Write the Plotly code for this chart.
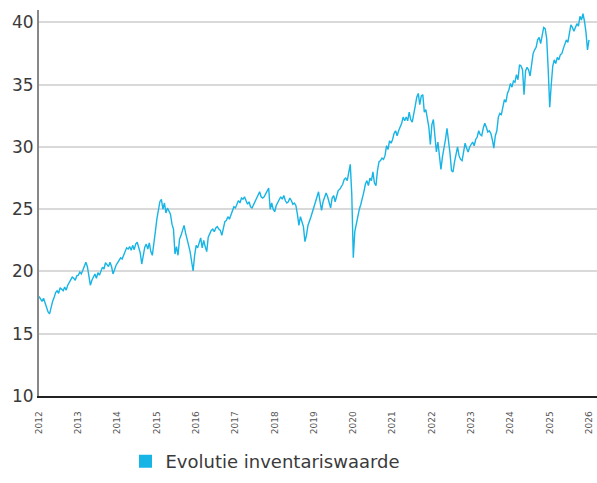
import pandas as pd
import plotly.graph_objects as go

# Net asset value, one reading every two weeks, grouped per year on the axis
nav_2012 = [18.0, 17.8, 17.6, 17.85, 17.5, 17.1, 16.75, 16.6, 17.2, 17.6, 17.9, 18.3, 18.45,
            18.25, 18.7, 18.55, 18.45, 18.75, 18.5, 18.9, 19.1, 19.3, 19.55, 19.45, 19.3, 19.65]
nav_2013 = [19.7, 19.95, 19.8, 20.1, 20.4, 20.75, 20.4, 19.6, 18.9, 19.3, 19.6, 19.8, 19.45,
            19.9, 19.7, 20.0, 20.35, 20.2, 20.7, 20.55, 20.4, 20.75, 20.4, 19.8, 20.2, 20.5]
nav_2014 = [20.7, 20.95, 21.1, 21.0, 21.3, 21.6, 21.9, 21.8, 22.0, 21.7, 22.1, 21.75, 22.2,
            22.35, 21.95, 21.5, 20.6, 21.4, 21.95, 22.2, 21.8, 22.3, 21.6, 21.3, 22.5, 23.2]
nav_2015 = [24.2, 24.9, 25.6, 25.8, 25.0, 25.5, 24.7, 25.1, 24.9, 24.6, 23.8, 23.4, 21.4,
            22.0, 21.3, 22.6, 22.9, 23.4, 23.7, 23.1, 22.6, 22.0, 21.6, 20.8, 20.05, 21.3]
nav_2016 = [22.1, 21.9, 22.4, 22.7, 21.9, 22.5, 22.0, 21.6, 22.75, 23.0, 23.3, 23.4, 23.2,
            23.5, 23.6, 23.4, 23.3, 22.9, 23.4, 24.0, 24.1, 24.4, 24.2, 24.6, 24.8, 25.2]
nav_2017 = [25.1, 25.4, 25.7, 25.5, 25.9, 25.8, 26.0, 25.7, 25.4, 25.6, 25.2, 25.1, 25.35,
            25.6, 25.9, 26.1, 26.4, 26.0, 25.9, 26.0, 26.2, 26.5, 26.7, 25.0, 25.5, 25.0]
nav_2018 = [24.8, 25.3, 25.5, 25.8, 26.0, 25.8, 26.1, 25.7, 25.5, 25.6, 25.9, 25.7, 25.4,
            25.5, 25.3, 24.6, 23.7, 24.4, 24.0, 23.6, 22.4, 22.9, 23.7, 24.0, 24.4, 24.8]
nav_2019 = [25.2, 25.6, 26.0, 26.4, 25.6, 24.9, 25.6, 25.9, 26.3, 26.0, 25.5, 25.1, 25.9,
            26.1, 25.6, 26.0, 26.5, 26.6, 26.8, 27.0, 27.4, 27.5, 27.3, 28.0, 28.6, 26.2]
nav_2020 = [21.1, 23.2, 23.9, 24.6, 25.0, 25.4, 25.8, 26.4, 27.0, 27.3, 26.9, 27.5, 27.3,
            28.0, 27.1, 26.9, 28.1, 28.8, 28.9, 29.1, 29.0, 29.3, 30.1, 29.8, 30.5, 30.3]
nav_2021 = [30.6, 31.1, 31.3, 30.9, 31.3, 31.6, 31.9, 32.4, 32.1, 32.4, 32.1, 32.8, 32.2,
            32.0, 32.8, 33.3, 34.0, 34.3, 33.4, 34.1, 34.2, 32.8, 33.0, 32.4, 31.6, 30.2]
nav_2022 = [31.8, 32.2, 30.8, 29.6, 30.4, 29.3, 28.2, 29.2, 29.8, 30.6, 31.5, 30.7, 29.5,
            28.1, 28.0, 28.8, 29.5, 30.0, 29.3, 29.0, 28.9, 29.8, 30.3, 29.9, 29.6, 30.0]
nav_2023 = [30.2, 30.4, 30.1, 30.6, 30.8, 31.3, 31.0, 30.9, 31.5, 31.9, 31.6, 31.2, 31.3,
            31.1, 30.6, 29.9, 30.9, 31.3, 32.4, 32.7, 32.6, 33.3, 33.8, 33.6, 34.3, 34.6]
nav_2024 = [35.1, 34.8, 35.3, 35.2, 35.8, 35.4, 36.6, 36.5, 36.2, 34.2, 36.1, 36.4, 36.2,
            35.7, 36.8, 37.5, 37.8, 38.0, 38.6, 38.8, 38.3, 39.0, 39.6, 39.5, 38.7, 36.2]
nav_2025 = [33.2, 35.0, 36.5, 37.0, 36.7, 37.2, 37.0, 37.4, 37.5, 37.9, 38.2, 38.6, 38.4,
            39.0, 39.8, 39.6, 39.3, 39.6, 39.9, 39.7, 40.5, 40.2, 40.7, 40.1, 39.2, 37.8]
nav_2026 = [38.6]

year_labels = ["2012", "2013", "2014", "2015", "2016", "2017", "2018", "2019",
               "2020", "2021", "2022", "2023", "2024", "2025", "2026"]
series_name = "Evolutie inventariswaarde"
line_color = "#17b4e6"
font_family = "'DejaVu Sans', sans-serif"

nav = (nav_2012 + nav_2013 + nav_2014 + nav_2015 + nav_2016 + nav_2017 + nav_2018
       + nav_2019 + nav_2020 + nav_2021 + nav_2022 + nav_2023 + nav_2024 + nav_2025 + nav_2026)
dates = pd.date_range("2012-02-27", periods=len(nav), freq="14D")
per_year = len(nav_2012)
tick_dates = list(dates[::per_year])

fig = go.Figure()
fig.add_trace(go.Scatter(
    x=dates, y=nav, mode="lines",
    line=dict(color=line_color, width=1.4),
    showlegend=False, name=series_name,
))
# legend entry drawn as a filled square
fig.add_trace(go.Scatter(
    x=[None], y=[None], mode="markers",
    marker=dict(symbol="square", size=13, color=line_color),
    name=series_name, showlegend=True,
))

fig.update_layout(
    width=597, height=483,
    margin=dict(l=39, r=0, t=10, b=87),
    paper_bgcolor="white", plot_bgcolor="white",
    font=dict(family=font_family, color="#3a3a3a"),
    legend=dict(
        orientation="h", x=0.155, xanchor="left", y=-0.122, yanchor="top",
        font=dict(size=18, color="#3a3a3a"), bgcolor="rgba(0,0,0,0)",
    ),
)
fig.update_xaxes(
    range=[dates[0], dates[-1] + pd.Timedelta(days=74)],
    tickvals=tick_dates, ticktext=year_labels[:len(tick_dates)],
    tickangle=-90, tickfont=dict(size=9, color="#555555"),
    ticklabelstandoff=10,
    showgrid=False, zeroline=False,
    showline=True, linecolor="#222222", linewidth=1.5,
)
fig.update_yaxes(
    range=[10, 41], tickvals=[10, 15, 20, 25, 30, 35, 40],
    tickfont=dict(size=17, color="#3a3a3a"),
    showgrid=True, gridcolor="#d9d9d9", gridwidth=1.5,
    zeroline=False,
    showline=True, linecolor="#888888", linewidth=2,
)

fig.write_html("out.html")
